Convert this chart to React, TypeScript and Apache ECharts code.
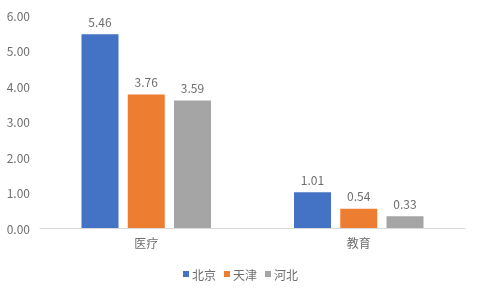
import React, { useEffect, useRef } from "react";
import * as echarts from "echarts";

const categories = ["医疗", "教育"];
const beijing = [5.46, 1.01];
const tianjin = [3.76, 0.54];
const hebei = [3.59, 0.33];
const seriesNames = ["北京", "天津", "河北"];
const colors = ["#4472C4", "#ED7D31", "#A5A5A5"];

export default function App() {
  const ref = useRef<HTMLDivElement>(null);
  useEffect(() => {
    const chart = echarts.init(ref.current!, null, { renderer: "svg" });
    const font = "'Noto Sans CJK SC', 'Noto Sans', sans-serif";
    const textColor = "#6E6E6E";
    const data = [beijing, tianjin, hebei];
    chart.setOption({
      animation: false,
      textStyle: { fontFamily: font },
      grid: { left: 40, right: 16, top: 15, bottom: 61 },
      legend: {
        top: 263,
        left: "center",
        itemWidth: 6,
        itemHeight: 6,
        itemGap: 8,
        icon: "rect",
        textStyle: { color: textColor, fontSize: 12, fontFamily: font, padding: [0, 0, 0, -2] },
        data: seriesNames,
      },
      xAxis: {
        type: "category",
        data: categories,
        axisTick: { show: false },
        axisLine: { lineStyle: { color: "#D9D9D9" } },
        axisLabel: { color: textColor, fontSize: 12, margin: 8, fontFamily: font },
      },
      yAxis: {
        type: "value",
        min: 0,
        max: 6,
        interval: 1,
        splitLine: { show: false },
        axisLine: { show: false },
        axisTick: { show: false },
        axisLabel: {
          color: textColor,
          fontSize: 12,
          margin: 10,
          fontFamily: font,
          formatter: (v: number) => v.toFixed(2),
        },
      },
      series: seriesNames.map((name, i) => ({
        name,
        type: "bar",
        data: data[i],
        barWidth: 37,
        barGap: "25%",
        itemStyle: { color: colors[i] },
        label: {
          show: true,
          position: "top",
          distance: 7,
          color: textColor,
          fontSize: 12,
          fontFamily: font,
          formatter: (p: any) => p.value.toFixed(2),
        },
      })),
    });
    return () => chart.dispose();
  }, []);
  return (
    <div
      ref={ref}
      style={{ position: "fixed", left: 0, top: 0, width: 481, height: 289 }}
    />
  );
}
